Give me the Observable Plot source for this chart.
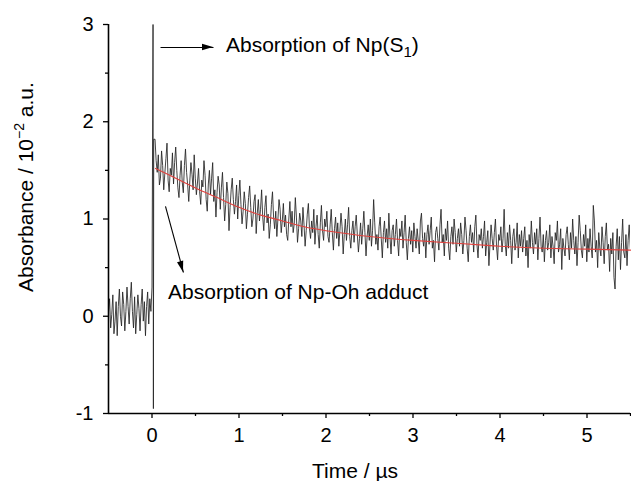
<!DOCTYPE html>
<html><head><meta charset="utf-8">
<script src="https://cdn.jsdelivr.net/npm/d3@7"></script>
<script src="https://cdn.jsdelivr.net/npm/@observablehq/plot@0.6"></script>
<style>body{margin:0;background:#fff}</style>
</head><body><div id="chart"></div>
<script>
// pre-trigger samples (time starts at -0.5 µs, step 0.0125 µs)
const preStart = -0.5, preStep = 0.0125;
const preValues = [0.05,0.18,-0.12,0.02,0.22,-0.18,-0.05,0.15,-0.2,0.1,0.28,0.0,-0.1,0.25,0.12,-0.15,0.05,0.3,0.1,-0.08,0.18,0.35,0.05,-0.12,0.2,-0.18,0.02,0.22,0.08,-0.15,0.12,0.28,-0.05,0.15,-0.2,0.1,0.25,-0.08,0.18,0.05,0.3];
// laser spike at t ≈ 0
const spikeTimes = [0.012, 0.016, 0.02];
const spikeValues = [3.0, -0.95, 1.82];
// post-trigger samples (start 0.035 µs, step 0.0125 µs)
const postStart = 0.035, postStep = 0.0125;
const postValues = [
1.82,1.60,1.48,1.66,1.35,1.42,1.70,1.55,1.30,1.47,1.62,1.78,1.40,1.28,1.52,1.45,1.68,1.36,1.58,1.74,
1.50,1.32,1.22,1.45,1.60,1.38,1.27,1.55,1.72,1.48,1.35,1.18,1.40,1.58,1.46,1.30,1.66,1.42,1.25,1.37,
1.52,1.28,1.15,1.40,1.33,1.60,1.45,1.20,1.08,1.36,1.50,1.25,1.42,1.58,1.18,1.30,1.02,1.27,1.44,1.35,
1.10,1.32,1.48,1.22,0.98,1.15,1.38,1.26,0.88,1.12,1.30,1.42,1.20,1.05,1.18,1.35,1.00,1.24,1.40,1.15,
0.95,1.08,1.28,1.16,0.90,1.05,1.22,1.34,1.12,0.92,1.00,1.18,1.25,0.85,1.06,1.20,0.98,1.10,1.30,1.02,
0.88,1.12,1.24,0.96,1.05,0.80,0.94,1.15,1.28,1.02,0.90,1.08,0.82,1.00,1.20,1.10,0.86,0.98,1.16,0.92,
1.04,0.84,0.78,1.00,1.18,0.92,1.08,0.86,0.95,1.22,1.02,0.76,0.90,1.06,0.98,0.82,1.12,0.94,0.72,0.88,
1.05,1.16,0.90,0.80,0.98,0.86,1.10,0.74,0.92,1.04,0.84,0.70,0.96,1.14,0.88,0.78,1.00,0.92,1.08,0.82,
0.76,0.94,1.10,0.86,0.68,0.90,1.02,0.80,0.96,0.72,0.88,1.06,0.92,0.64,0.84,1.00,0.78,0.94,1.12,0.82,
0.70,0.88,0.98,0.76,0.92,1.04,0.84,0.66,0.80,0.96,0.74,0.90,1.08,0.86,0.62,0.82,0.94,0.78,1.00,0.72,
0.88,1.20,0.96,0.74,0.84,0.68,0.92,1.02,0.80,0.60,0.86,0.98,0.76,0.90,0.70,1.06,0.82,0.64,0.88,0.94,
0.72,0.84,1.00,0.78,0.62,0.90,0.82,0.98,0.70,0.86,1.04,0.76,0.58,0.80,0.92,0.74,0.88,0.66,0.96,0.82,
0.70,0.90,0.78,0.64,0.98,1.06,0.80,0.72,0.86,0.60,0.84,0.94,0.74,0.88,1.02,0.70,0.78,0.56,0.86,0.92,
0.80,0.68,0.94,1.10,0.76,0.84,0.62,0.90,0.78,0.98,0.70,0.58,0.82,0.92,0.74,1.00,0.86,0.66,0.80,0.90,
0.72,0.96,0.84,0.64,0.78,1.02,0.88,0.70,0.56,0.82,0.94,0.76,0.86,0.66,0.92,1.04,0.74,0.60,0.84,0.78,
0.90,0.70,0.82,0.98,0.62,0.76,0.88,0.52,0.74,0.94,0.80,0.68,0.86,1.00,0.72,0.58,0.84,0.78,0.92,0.66,
0.80,1.10,0.74,0.62,0.86,0.70,0.94,0.78,0.54,0.82,0.90,0.68,0.76,0.96,0.60,0.84,0.72,0.88,0.66,0.80,
0.92,0.62,0.78,0.50,0.84,0.70,0.98,0.76,0.64,0.86,0.74,0.90,0.58,0.80,1.02,0.72,0.66,0.84,0.56,0.78,
0.88,0.68,0.76,0.94,0.60,0.82,0.72,0.54,0.86,0.78,0.98,0.66,0.74,0.90,0.48,0.80,0.70,0.62,0.84,0.92,
0.74,0.58,0.86,0.70,1.00,0.78,0.64,0.82,0.52,0.76,1.04,0.88,0.68,0.60,0.84,0.72,0.94,0.56,0.80,0.66,
0.90,0.72,0.60,1.14,0.98,0.66,0.78,0.50,0.86,0.70,0.62,0.92,0.76,0.54,0.82,0.96,0.68,0.74,0.46,0.80,
0.64,0.86,0.40,0.28,0.72,0.90,0.58,0.82,0.48,0.76,1.00,0.66,0.60,0.84,0.52,0.78,0.94,0.70,0.62,0.74
];
// exponential fit (red)
const fitTimes  = [0.04,0.25,0.5,0.75,1,1.25,1.5,1.75,2,2.5,3,3.5,4,4.5,5,5.5];
const fitValues = [1.52,1.43,1.32,1.22,1.12,1.04,0.98,0.92,0.88,0.82,0.78,0.75,0.72,0.70,0.69,0.68];
// ticks
const xMajor = [0,1,2,3,4,5];
const xMinor = [0.5,1.5,2.5,3.5,4.5,5.5];
const yMajor = [-1,0,1,2,3];
const yMinor = [-0.5,0.5,1.5,2.5];
// annotations (data units)
const arrowX1 = [0.098, 0.155], arrowY1 = [2.763, 1.129];
const arrowX2 = [0.707, 0.362], arrowY2 = [2.763, 0.45];
const noteX = [0.856, 0.19], noteY = [2.71, 0.172];
const noteMain = ["Absorption of Np(S", "Absorption of Np-Oh adduct"];
const noteSub = ["1", ""];
const noteTail = [")", ""];

const trace = [
  ...preValues.map((v, i) => ({t: preStart + i * preStep, v})),
  ...spikeTimes.map((t, i) => ({t, v: spikeValues[i]})),
  ...postValues.map((v, i) => ({t: postStart + i * postStep, v}))
];
const fit = fitTimes.map((t, i) => ({t, v: fitValues[i]}));
const arrows = arrowX1.map((x, i) => ({x1: x, y1: arrowY1[i], x2: arrowX2[i], y2: arrowY2[i]}));

const font = "'Liberation Sans', Arial, Helvetica, sans-serif";
const chart = Plot.plot({
  width: 631, height: 481,
  marginLeft: 108, marginRight: 1, marginTop: 24, marginBottom: 68,
  x: {domain: [-0.5, 5.5]},
  y: {domain: [-1, 3]},
  style: {fontFamily: font, fontSize: "20px", color: "#000", background: "#fff"},
  marks: [
    Plot.axisX({ticks: xMinor, tickSize: 3, tickFormat: () => "", strokeWidth: 1.3, label: null}),
    Plot.axisX({ticks: xMajor, tickSize: 5, tickPadding: 9, tickFormat: d => String(d), strokeWidth: 1.3, label: null}),
    Plot.axisY({ticks: yMinor, tickSize: 3, tickFormat: () => "", strokeWidth: 1.3, label: null}),
    Plot.axisY({ticks: yMajor, tickSize: 5, tickPadding: 10, tickFormat: d => String(d), strokeWidth: 1.3, label: null}),
    Plot.line(trace, {x: "t", y: "v", stroke: "#222", strokeWidth: 0.85, clip: true}),
    Plot.line(fit, {x: "t", y: "v", stroke: "#e2403c", strokeWidth: 1.1, curve: "natural"}),
    Plot.ruleY([-1], {stroke: "#000", strokeWidth: 1.6}),
    Plot.ruleX([-0.5], {stroke: "#000", strokeWidth: 1.6}),
    Plot.link(arrows, {x1: "x1", y1: "y1", x2: "x2", y2: "y2", stroke: "#000", strokeWidth: 1.1})
  ]
});
document.getElementById("chart").append(chart);

const svg = d3.select(chart);
const sx = chart.scale("x"), sy = chart.scale("y");
// filled arrowheads at the arrow tips
arrows.forEach(a => {
  const x1 = sx.apply(a.x1), y1 = sy.apply(a.y1), x2 = sx.apply(a.x2), y2 = sy.apply(a.y2);
  const L = Math.hypot(x2 - x1, y2 - y1), ux = (x2 - x1) / L, uy = (y2 - y1) / L;
  const len = 11, half = 3.2;
  const bx = x2 - ux * len, by = y2 - uy * len;
  const pts = [[x2, y2], [bx - uy * half, by + ux * half], [bx + uy * half, by - ux * half]];
  svg.append("polygon").attr("points", pts.map(p => p.join(",")).join(" ")).attr("fill", "#000");
});
noteMain.forEach((m, i) => {
  const t = svg.append("text")
    .attr("x", sx.apply(noteX[i])).attr("y", sy.apply(noteY[i]))
    .attr("text-anchor", "start")
    .attr("font-family", font).attr("font-size", 21).attr("fill", "#000");
  t.append("tspan").text(m);
  if (noteSub[i]) {
    t.append("tspan").attr("font-size", 15).attr("dy", 5).text(noteSub[i]);
    t.append("tspan").attr("dy", -5).text(noteTail[i]);
  }
});
// axis titles
svg.append("text").attr("x", 355).attr("y", 478).attr("text-anchor", "middle")
  .attr("font-family", font).attr("font-size", 21).text("Time / µs");
const yl = svg.append("text").attr("transform", "translate(33,187) rotate(-90)")
  .attr("text-anchor", "middle").attr("font-family", font).attr("font-size", 21);
yl.append("tspan").text("Absorbance / 10");
yl.append("tspan").attr("font-size", 14).attr("dy", -9).text("\u22122");
yl.append("tspan").attr("dy", 9).text(" a.u.");
</script>
</body></html>
